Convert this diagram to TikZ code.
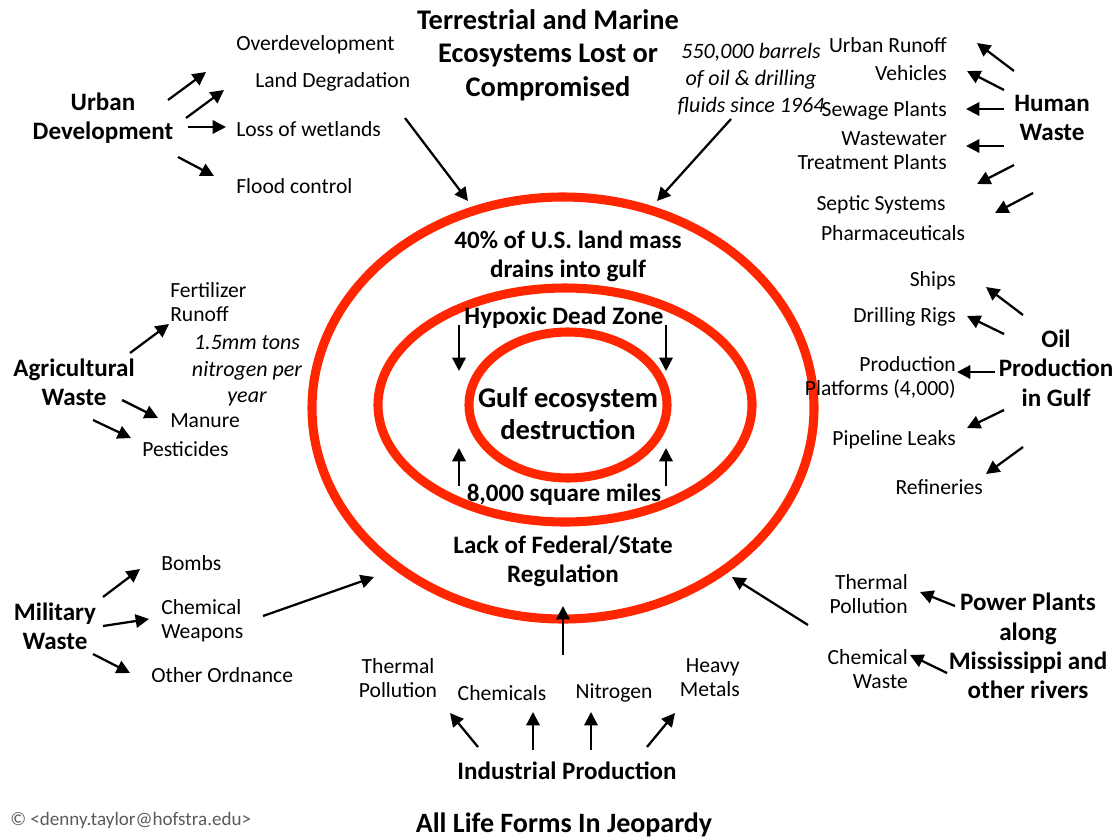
\documentclass[tikz,border=0pt]{standalone}
\usepackage{fontspec}
\setmainfont{Carlito}
\usetikzlibrary{arrows.meta}
\definecolor{ringred}{RGB}{255,38,0}
\definecolor{notegray}{RGB}{90,90,90}
\tikzset{
  ring/.style={draw=ringred,line width=6.8pt},
  item/.style={font=\fontsize{16.2}{18}\selectfont,inner sep=0pt},
  itemc/.style={item,align=center},
  itemr/.style={item,align=right},
  head/.style={font=\fontsize{18.8}{22}\selectfont\bfseries,align=center,inner sep=0pt},
  mid/.style={font=\fontsize{18.8}{21.5}\selectfont\bfseries,align=center,inner sep=0pt},
  note/.style={font=\fontsize{16.5}{20}\selectfont\itshape,align=center,inner sep=0pt},
  arr/.style={line width=1.7pt,-{Triangle[length=10pt,width=10pt]}},
}
\begin{document}
\begin{tikzpicture}[x=0.75pt,y=-0.75pt]
\useasboundingbox (0,0) rectangle (1116,839);

% concentric rings
\draw[ring] (563,408) ellipse [x radius=251,y radius=211];
\draw[ring] (565,405) ellipse [x radius=187,y radius=117];
\draw[ring] (568,405) ellipse [x radius=99,y radius=73];

% texts inside the rings
\node[mid] (land) at (568,256) {40\% of U.S. land mass\\drains into gulf};
\node[mid] (hyp) at (564,318) {Hypoxic Dead Zone};
\node[font=\fontsize{21.4}{24}\selectfont\bfseries,align=center,inner sep=0pt] (gulf) at (568,414) {Gulf ecosystem\\destruction};
\node[mid] (sq) at (564,495) {8,000 square miles};
\node[mid] (lack) at (563,561) {Lack of Federal/State\\Regulation};

\coordinate (hl1) at (459,325); \coordinate (hl2) at (459,371);
\coordinate (hr1) at (666,325); \coordinate (hr2) at (666,371);
\coordinate (sl1) at (459,486); \coordinate (sl2) at (459,448);
\coordinate (sr1) at (666,486); \coordinate (sr2) at (666,448);
\draw[arr] (hl1) -- (hl2);
\draw[arr] (hr1) -- (hr2);
\draw[arr] (sl1) -- (sl2);
\draw[arr] (sr1) -- (sr2);

% title block
\node[font=\fontsize{21.3}{25}\selectfont\bfseries,align=center,inner sep=0pt] (title) at (548,55) {Terrestrial and Marine\\Ecosystems Lost or\\Compromised};

% urban development
\node[head] (urban) at (103,118) {Urban\\Development};
\node[item,anchor=west] (over) at (236,45) {Overdevelopment};
\node[item,anchor=west] (landdeg) at (255,82) {Land Degradation};
\node[item,anchor=west] (wet) at (236,129) {Loss of wetlands};
\node[item,anchor=west] (flood) at (236,186) {Flood control};
\coordinate (u1a) at (168,100); \coordinate (u1b) at (206,72);
\coordinate (u2a) at (186,118); \coordinate (u2b) at (224,90);
\coordinate (u3a) at (188,127); \coordinate (u3b) at (226,127);
\coordinate (u4a) at (178,157); \coordinate (u4b) at (214,176);
\draw[arr] (u1a) -- (u1b);
\draw[arr] (u2a) -- (u2b);
\draw[arr] (u3a) -- (u3b);
\draw[arr] (u4a) -- (u4b);
\coordinate (wa) at (405,118); \coordinate (wb) at (468,201);
\draw[arr] (wa) -- (wb);

% oil note
\node[note] (barrels) at (751,79) {550,000 barrels\\of oil \& drilling\\fluids since 1964};
\coordinate (ba) at (731,119); \coordinate (bb) at (657,201);
\draw[arr] (ba) -- (bb);

% human waste
\node[head] (human) at (1052,118) {Human\\Waste};
\node[item,anchor=east] (runoff) at (947,45) {Urban Runoff};
\node[item,anchor=east] (veh) at (947,73) {Vehicles};
\node[item,anchor=east] (sew) at (947,111) {Sewage Plants};
\node[itemr,anchor=east] (wtp) at (947,151) {Wastewater\\Treatment Plants};
\node[item] (sept) at (881,205) {Septic Systems};
\node[item] (pharm) at (893,233) {Pharmaceuticals};
\coordinate (h1a) at (1014,71); \coordinate (h1b) at (977,43);
\coordinate (h2a) at (1004,90); \coordinate (h2b) at (967,71);
\coordinate (h3a) at (1004,109); \coordinate (h3b) at (966,109);
\coordinate (h4a) at (1004,146); \coordinate (h4b) at (966,146);
\coordinate (h5a) at (1014,165); \coordinate (h5b) at (977,184);
\coordinate (h6a) at (1033,193); \coordinate (h6b) at (995,213);
\draw[arr] (h1a) -- (h1b);
\draw[arr] (h2a) -- (h2b);
\draw[arr] (h3a) -- (h3b);
\draw[arr] (h4a) -- (h4b);
\draw[arr] (h5a) -- (h5b);
\draw[arr] (h6a) -- (h6b);

% agricultural waste
\node[head] (agri) at (74,382) {Agricultural\\Waste};
\node[item,align=left,anchor=west] (fert) at (170,302) {Fertilizer\\Runoff};
\node[note] (tons) at (247,371) {1.5mm tons\\nitrogen per\\year};
\node[item,anchor=west] (manure) at (170,421) {Manure};
\node[item,anchor=west] (pest) at (142,449) {Pesticides};
\coordinate (a1a) at (130,353); \coordinate (a1b) at (169,324);
\coordinate (a2a) at (122,400); \coordinate (a2b) at (158,418);
\coordinate (a3a) at (93,420); \coordinate (a3b) at (131,438);
\draw[arr] (a1a) -- (a1b);
\draw[arr] (a2a) -- (a2b);
\draw[arr] (a3a) -- (a3b);

% oil production in gulf
\node[head] (oil) at (1056,368) {Oil\\Production\\in Gulf};
\node[item,anchor=east] (ships) at (956,281) {Ships};
\node[item,anchor=east] (rigs) at (956,317) {Drilling Rigs};
\node[itemr,anchor=east] (plat) at (956,377) {Production\\Platforms (4,000)};
\node[item,anchor=east] (pipe) at (956,440) {Pipeline Leaks};
\node[item,anchor=east] (ref) at (983,487) {Refineries};
\coordinate (o1a) at (1023,315); \coordinate (o1b) at (986,287);
\coordinate (o2a) at (1004,334); \coordinate (o2b) at (967,316);
\coordinate (o3a) at (995,372); \coordinate (o3b) at (957,372);
\coordinate (o4a) at (1004,410); \coordinate (o4b) at (967,428);
\coordinate (o5a) at (1023,447); \coordinate (o5b) at (986,474);
\draw[arr] (o1a) -- (o1b);
\draw[arr] (o2a) -- (o2b);
\draw[arr] (o3a) -- (o3b);
\draw[arr] (o4a) -- (o4b);
\draw[arr] (o5a) -- (o5b);

% military waste
\node[head] (mil) at (55,626) {Military\\Waste};
\node[item,anchor=west] (bombs) at (161,563) {Bombs};
\node[item,align=left,anchor=west] (chemw) at (161,621) {Chemical\\Weapons};
\node[item,anchor=west] (ord) at (151,675) {Other Ordnance};
\coordinate (m1a) at (103,597); \coordinate (m1b) at (140,569);
\coordinate (m2a) at (103,626); \coordinate (m2b) at (149,619);
\coordinate (m3a) at (93,654); \coordinate (m3b) at (130,673);
\coordinate (m4a) at (263,616); \coordinate (m4b) at (374,577);
\draw[arr] (m1a) -- (m1b);
\draw[arr] (m2a) -- (m2b);
\draw[arr] (m3a) -- (m3b);
\draw[arr] (m4a) -- (m4b);

% power plants
\node[head] (power) at (1028,646) {Power Plants\\along\\Mississippi and\\other rivers};
\node[itemr,anchor=east] (therm) at (908,594) {Thermal\\Pollution};
\node[itemr,anchor=east] (chwaste) at (908,669) {Chemical\\Waste};
\coordinate (p1a) at (955,606); \coordinate (p1b) at (920,592);
\coordinate (p2a) at (947,673); \coordinate (p2b) at (910,655);
\coordinate (p3a) at (808,625); \coordinate (p3b) at (732,577);
\draw[arr] (p1a) -- (p1b);
\draw[arr] (p2a) -- (p2b);
\draw[arr] (p3a) -- (p3b);

% industrial production
\node[head] (ind) at (567,771) {Industrial Production};
\node[itemc] (ithermal) at (398,678) {Thermal\\Pollution};
\node[item] (ichem) at (502,693) {Chemicals};
\node[item] (initro) at (614,693) {Nitrogen};
\node[itemr,anchor=east] (heavy) at (740,678) {Heavy\\Metals};
\coordinate (i0a) at (563,655); \coordinate (i0b) at (563,606);
\coordinate (i1a) at (478,747); \coordinate (i1b) at (450,713);
\coordinate (i2a) at (533,750); \coordinate (i2b) at (533,712);
\coordinate (i3a) at (591,750); \coordinate (i3b) at (591,712);
\coordinate (i4a) at (647,747); \coordinate (i4b) at (675,713);
\draw[arr] (i0a) -- (i0b);
\draw[arr] (i1a) -- (i1b);
\draw[arr] (i2a) -- (i2b);
\draw[arr] (i3a) -- (i3b);
\draw[arr] (i4a) -- (i4b);

% footer
\node[font=\fontsize{21}{25}\selectfont\bfseries,inner sep=0pt] (life) at (564,825) {All Life Forms In Jeopardy};
\node[font=\fontsize{14.3}{16}\selectfont,text=notegray,anchor=west,inner sep=0pt] (credit) at (10,820) {© <denny.taylor@hofstra.edu>};
\end{tikzpicture}
\end{document}
